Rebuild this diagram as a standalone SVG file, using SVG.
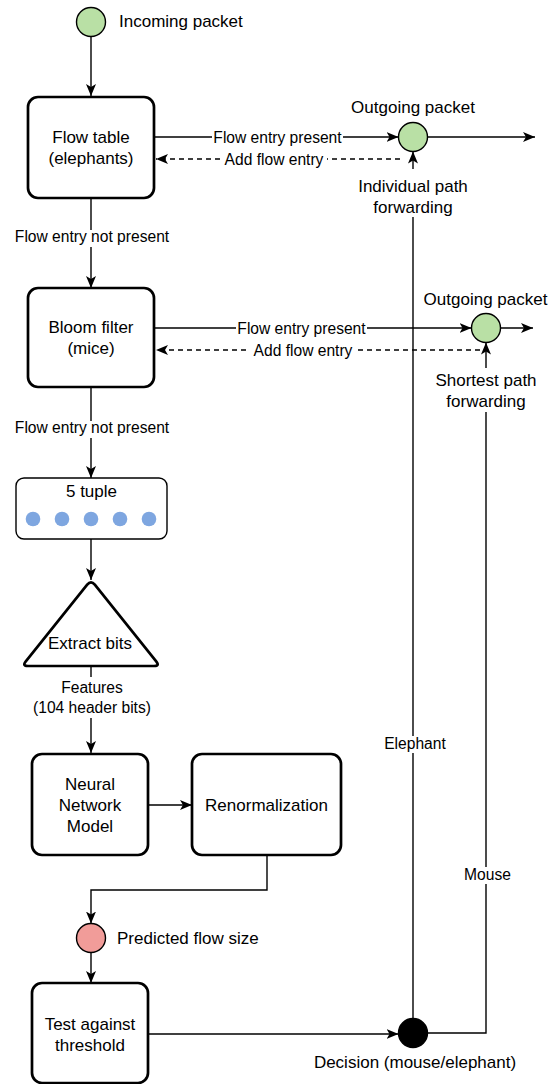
<svg xmlns="http://www.w3.org/2000/svg" width="559" height="1084" viewBox="0 0 559 1084">
  <style>
    text { font-family: "Liberation Sans", Arial, Helvetica, sans-serif; fill: #000; }
    .node { font-size: 17px; text-anchor: middle; }
    .side { font-size: 17px; }
    .lbl { font-size: 15.6px; text-anchor: middle; }
    .box { fill: #fff; stroke: #000; stroke-width: 2.7; }
    .thin { fill: #fff; stroke: #000; stroke-width: 1.4; }
    .edge { fill: none; stroke: #000; stroke-width: 1.4; }
    .dash { stroke-dasharray: 5 4; }
    .bg { fill: #fff; }
    .green { fill: #b9e0a5; stroke: #000; stroke-width: 1.4; }
    .red { fill: #f19c99; stroke: #000; stroke-width: 1.4; }
    .dot { fill: #7ea6e0; }
  </style>
  <defs>
    <marker id="arrow" viewBox="0 0 12 10" refX="12" refY="5" markerWidth="12" markerHeight="10" markerUnits="userSpaceOnUse" orient="auto">
      <path d="M0,0 L12,5 L0,10 L3,5 Z" fill="#000"/>
    </marker>
  </defs>

  <!-- connectors -->
  <g id="connectors">
    <path class="edge" d="M91,36.5 L91,96" marker-end="url(#arrow)"/>
    <path class="edge" d="M154,137 L398.5,137" marker-end="url(#arrow)"/>
    <path class="edge dash" d="M400,159 L156,159" marker-end="url(#arrow)"/>
    <path class="edge" d="M427.5,137 L535,137" marker-end="url(#arrow)"/>
    <path class="edge" d="M91,198 L91,288" marker-end="url(#arrow)"/>
    <path class="edge" d="M154,328 L471.5,328" marker-end="url(#arrow)"/>
    <path class="edge dash" d="M480,350 L156,350" marker-end="url(#arrow)"/>
    <path class="edge" d="M500.5,328 L533,328" marker-end="url(#arrow)"/>
    <path class="edge" d="M91,387 L91,478" marker-end="url(#arrow)"/>
    <path class="edge" d="M91,539 L91,580" marker-end="url(#arrow)"/>
    <path class="edge" d="M91,666 L91,753" marker-end="url(#arrow)"/>
    <path class="edge" d="M148,805 L192,805" marker-end="url(#arrow)"/>
    <path class="edge" d="M267,855 L267,890 L91,890 L91,923.5" marker-end="url(#arrow)"/>
    <path class="edge" d="M91,952.5 L91,983" marker-end="url(#arrow)"/>
    <path class="edge" d="M148,1034 L398.5,1034" marker-end="url(#arrow)"/>
    <path class="edge" d="M413,1018.5 L413,151.5" marker-end="url(#arrow)"/>
    <path class="edge" d="M427.5,1033 L486,1033 L486,342.5" marker-end="url(#arrow)"/>

    <!-- edge labels -->
    <rect class="bg" x="14" y="230" width="156" height="17"/>
    <text class="lbl" x="92" y="242">Flow entry not present</text>
    <rect class="bg" x="212" y="128" width="131" height="17"/>
    <text class="lbl" x="277.5" y="142.5">Flow entry present</text>
    <rect class="bg" x="221" y="150" width="106" height="17"/>
    <text class="lbl" x="274" y="164.5">Add flow entry</text>
    <rect class="bg" x="236" y="319" width="131" height="17"/>
    <text class="lbl" x="301.5" y="333.5">Flow entry present</text>
    <rect class="bg" x="250" y="341" width="106" height="17"/>
    <text class="lbl" x="303" y="355.5">Add flow entry</text>
    <rect class="bg" x="14" y="421" width="156" height="17"/>
    <text class="lbl" x="92" y="433">Flow entry not present</text>
    <rect class="bg" x="31" y="677" width="122" height="41"/>
    <text class="lbl" x="92" y="693">Features</text>
    <text class="lbl" x="92" y="713">(104 header bits)</text>
    <rect class="bg" x="383" y="736" width="64" height="17"/>
    <text class="lbl" x="415" y="749">Elephant</text>
    <rect class="bg" x="463" y="867" width="49" height="17"/>
    <text class="lbl" x="487.5" y="880">Mouse</text>
  </g>

  <g id="incoming-packet">
    <circle class="green" cx="91" cy="22" r="14.5"/>
    <text class="side" x="119" y="27">Incoming packet</text>
  </g>

  <g id="flow-table">
    <rect class="box" x="28" y="97" width="126" height="101" rx="10"/>
    <text class="node" x="91" y="143">Flow table</text>
    <text class="node" x="91" y="164">(elephants)</text>
  </g>

  <g id="outgoing-packet-1">
    <circle class="green" cx="413" cy="137" r="14.5"/>
    <text class="node" x="413" y="113">Outgoing packet</text>
    <rect class="bg" x="355" y="169" width="116" height="48"/>
    <text class="node" x="413" y="192">Individual path</text>
    <text class="node" x="413" y="213">forwarding</text>
  </g>

  <g id="bloom-filter">
    <rect class="box" x="28" y="288" width="126" height="99" rx="10"/>
    <text class="node" x="91" y="333">Bloom filter</text>
    <text class="node" x="91" y="354">(mice)</text>
  </g>

  <g id="outgoing-packet-2">
    <circle class="green" cx="486" cy="328" r="14.5"/>
    <text class="node" x="485.5" y="305">Outgoing packet</text>
    <rect class="bg" x="430" y="368" width="112" height="44"/>
    <text class="node" x="486" y="386">Shortest path</text>
    <text class="node" x="486" y="407">forwarding</text>
  </g>

  <g id="five-tuple">
    <rect class="thin" x="16" y="478" width="151" height="61" rx="8"/>
    <text class="node" x="91.5" y="497">5 tuple</text>
    <circle class="dot" cx="33" cy="519" r="7.3"/>
    <circle class="dot" cx="62" cy="519" r="7.3"/>
    <circle class="dot" cx="91" cy="519" r="7.3"/>
    <circle class="dot" cx="120" cy="519" r="7.3"/>
    <circle class="dot" cx="149" cy="519" r="7.3"/>
  </g>

  <g id="extract-bits">
    <path class="box" d="M94.8,584.7 L156.2,661.3 Q160,666 154,666 L28,666 Q22,666 25.8,661.3 L87.2,584.7 Q91,580 94.8,584.7 Z"/>
    <text class="node" x="90" y="649">Extract bits</text>
  </g>

  <g id="neural-network">
    <rect class="box" x="32" y="754" width="116" height="101" rx="10"/>
    <text class="node" x="90" y="790">Neural</text>
    <text class="node" x="90" y="811">Network</text>
    <text class="node" x="90" y="832">Model</text>
  </g>

  <g id="renormalization">
    <rect class="box" x="192" y="754" width="149" height="101" rx="10"/>
    <text class="node" x="266.5" y="811">Renormalization</text>
  </g>

  <g id="predicted-flow-size">
    <circle class="red" cx="91" cy="938" r="14.5"/>
    <text class="side" x="117" y="944">Predicted flow size</text>
  </g>

  <g id="threshold-test">
    <rect class="box" x="32" y="983" width="116" height="100" rx="10"/>
    <text class="node" x="90" y="1030">Test against</text>
    <text class="node" x="90" y="1051">threshold</text>
  </g>

  <g id="decision">
    <circle cx="413" cy="1033" r="14.5" fill="#000" stroke="#000" stroke-width="1.4"/>
    <text class="node" x="415" y="1068">Decision (mouse/elephant)</text>
  </g>
</svg>
